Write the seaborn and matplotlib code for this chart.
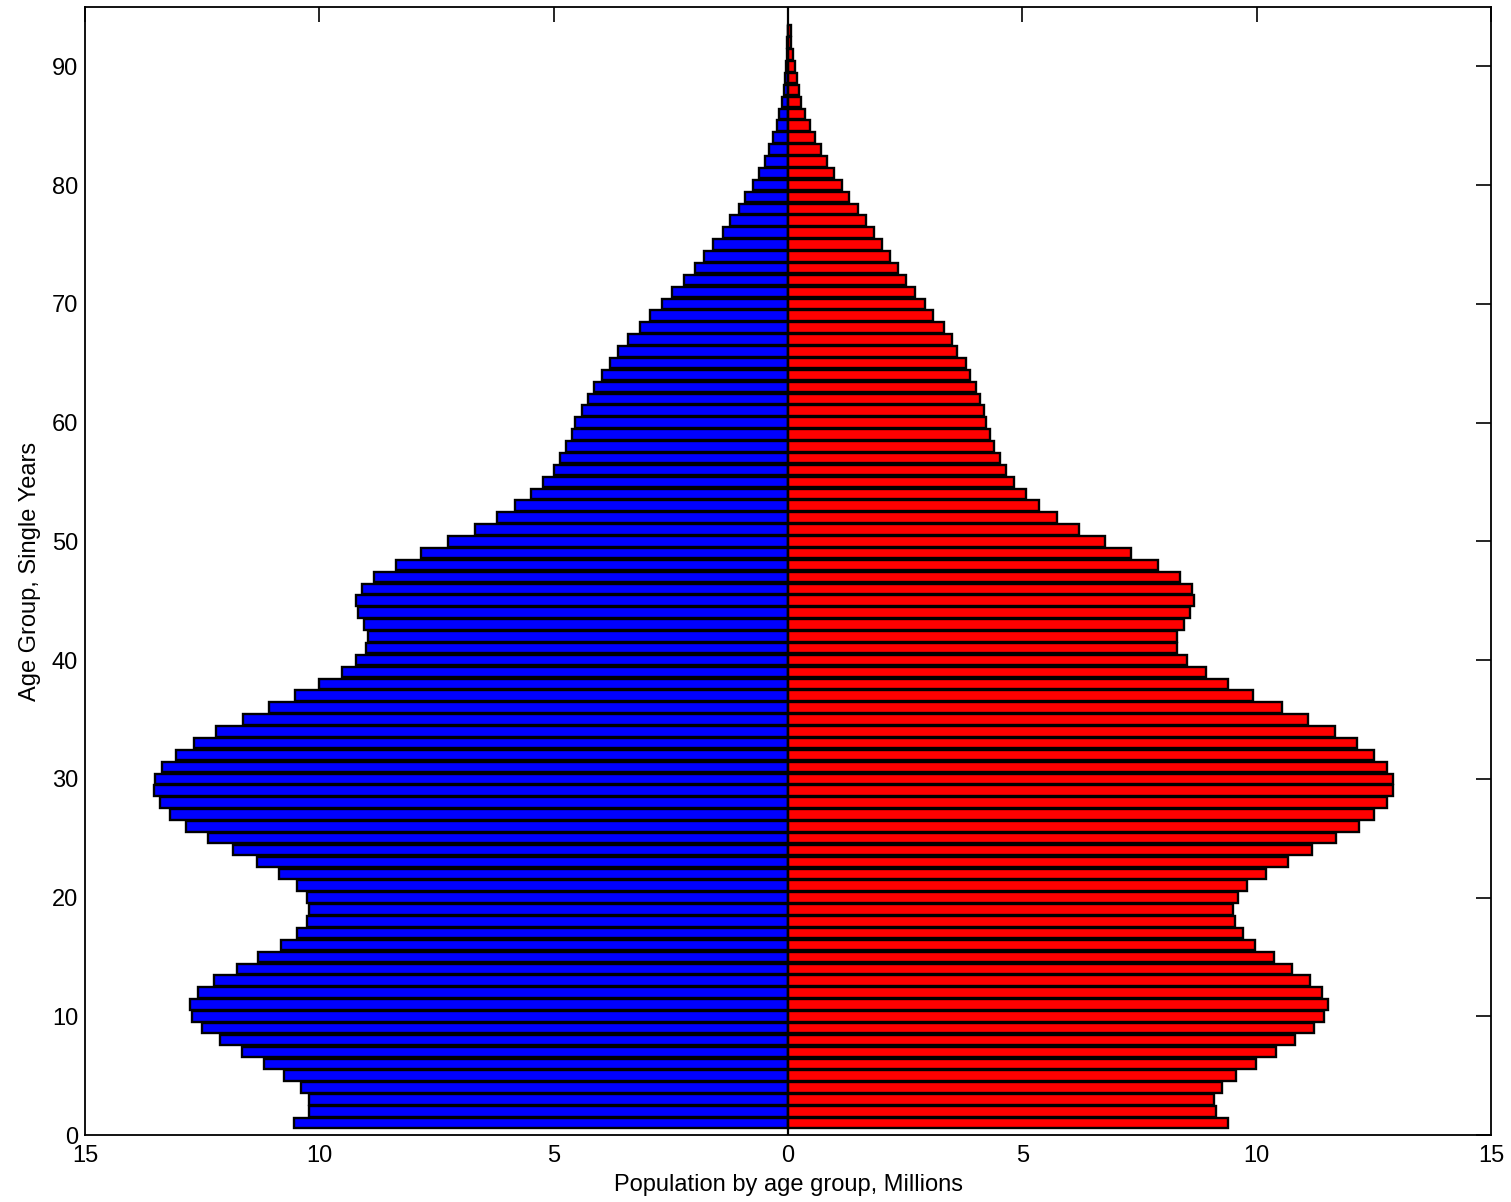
import matplotlib
matplotlib.use("Agg")
import matplotlib.pyplot as plt
import pandas as pd
import seaborn as sns

# Single-year age groups (bar positions)
ages = list(range(1, 94))

# Male population by single year of age, millions (left side)
male = [
    10.54, 10.23, 10.22, 10.40, 10.75, 11.18, 11.66, 12.12, 12.51, 12.72,
    12.77, 12.59, 12.24, 11.76, 11.30, 10.82, 10.48, 10.26, 10.22, 10.26,
    10.48, 10.87, 11.33, 11.85, 12.37, 12.85, 13.18, 13.41, 13.53, 13.50,
    13.36, 13.07, 12.68, 12.20, 11.64, 11.07, 10.51, 10.00, 9.52, 9.22,
    9.01, 8.96, 9.05, 9.18, 9.22, 9.10, 8.84, 8.37, 7.84, 7.25,
    6.69, 6.21, 5.83, 5.48, 5.22, 5.00, 4.87, 4.74, 4.62, 4.54,
    4.40, 4.27, 4.15, 3.98, 3.80, 3.62, 3.41, 3.16, 2.94, 2.68,
    2.47, 2.22, 1.99, 1.79, 1.61, 1.39, 1.23, 1.05, 0.92, 0.75,
    0.62, 0.49, 0.41, 0.32, 0.23, 0.19, 0.14, 0.09, 0.07, 0.05,
    0.03, 0.02, 0.01,
]

# Female population by single year of age, millions (right side)
female = [
    9.38, 9.14, 9.08, 9.25, 9.56, 9.99, 10.42, 10.81, 11.22, 11.44,
    11.52, 11.40, 11.14, 10.75, 10.36, 9.97, 9.71, 9.54, 9.50, 9.59,
    9.80, 10.19, 10.67, 11.18, 11.70, 12.18, 12.51, 12.77, 12.90, 12.90,
    12.77, 12.51, 12.13, 11.67, 11.10, 10.54, 9.93, 9.38, 8.91, 8.52,
    8.30, 8.30, 8.44, 8.57, 8.66, 8.61, 8.36, 7.89, 7.32, 6.77,
    6.20, 5.73, 5.35, 5.08, 4.82, 4.65, 4.52, 4.39, 4.30, 4.23,
    4.18, 4.09, 4.01, 3.88, 3.79, 3.61, 3.49, 3.32, 3.10, 2.92,
    2.70, 2.52, 2.35, 2.18, 2.01, 1.83, 1.66, 1.49, 1.31, 1.15,
    0.97, 0.84, 0.71, 0.58, 0.46, 0.36, 0.28, 0.24, 0.20, 0.15,
    0.11, 0.06, 0.07,
]

x_ticks = [-15, -10, -5, 0, 5, 10, 15]
x_tick_labels = ["15", "10", "5", "0", "5", "10", "15"]
y_ticks = [0, 10, 20, 30, 40, 50, 60, 70, 80, 90]

sns.set_style("white")
plt.rcParams["font.family"] = ["Liberation Sans", "DejaVu Sans"]

df_male = pd.DataFrame({"age": ages, "pop": [-v for v in male]})
df_female = pd.DataFrame({"age": ages, "pop": female})

fig = plt.figure(figsize=(15.11, 12.02), dpi=100)
ax = fig.add_axes([0.0563, 0.0557, 0.9305, 0.9385])

bar_kw = dict(orient="y", native_scale=True, saturation=1, width=0.88,
              edgecolor="black", linewidth=1.7, errorbar=None, ax=ax)
sns.barplot(data=df_male, x="pop", y="age", color="#0000ff", **bar_kw)
sns.barplot(data=df_female, x="pop", y="age", color="#ff0000", **bar_kw)

ax.axvline(0, color="black", linewidth=1.6, zorder=4)

ax.set_xlim(-15, 15)
ax.set_ylim(0, 95)
ax.set_xticks(x_ticks)
ax.set_xticklabels(x_tick_labels)
ax.set_yticks(y_ticks)
ax.set_yticklabels([str(t) for t in y_ticks])

ax.tick_params(direction="in", length=11, width=1.2, top=True, right=True,
               labelsize=17, colors="black")
ax.tick_params(axis="x", pad=7)
ax.tick_params(axis="y", pad=5)

for side in ["left", "right", "top", "bottom"]:
    ax.spines[side].set_visible(True)
    ax.spines[side].set_color("black")
    ax.spines[side].set_linewidth(1.3)

ax.set_xlabel("Population by age group, Millions", fontsize=17, labelpad=5,
              color="black")
ax.set_ylabel("Age Group, Single Years", fontsize=17, labelpad=8,
              color="black")
ax.grid(False)

fig.savefig("out.png", dpi=100, facecolor="white")
